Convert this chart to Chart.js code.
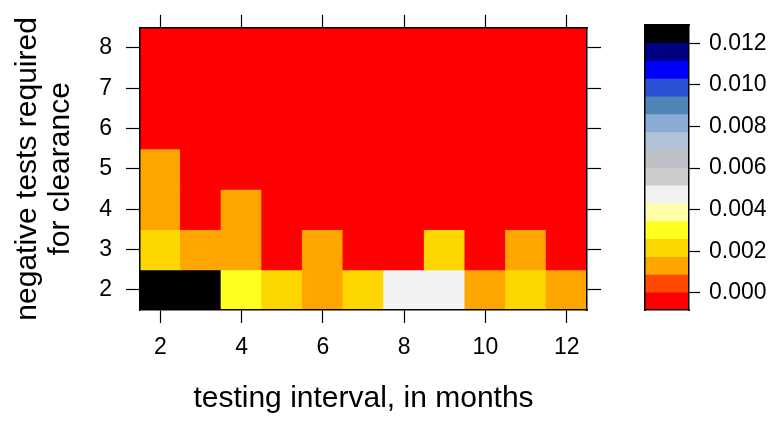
<!DOCTYPE html>
<html><head><meta charset="utf-8">
<script src="https://cdn.jsdelivr.net/npm/chart.js@4/dist/chart.umd.min.js"></script>
<style>
html,body{margin:0;padding:0;background:#fff;}
#wrap{position:relative;width:781px;height:425px;overflow:hidden;}
#main{position:absolute;left:0;top:0;width:781px;height:425px;}
#key{position:absolute;left:600px;top:0;width:181px;height:425px;}
</style></head><body>
<div id="wrap"><div id="main"><canvas id="c1"></canvas></div><div id="key"><canvas id="c2"></canvas></div></div>
<script>
// ---- data ----
const intervals = [2, 3, 4, 5, 6, 7, 8, 9, 10, 11, 12];
const testsRequired = [2, 3, 4, 5, 6, 7, 8];
const probTests2 = [0.0125, 0.0125, 0.0030, 0.0022, 0.0013, 0.0022, 0.0047, 0.0047, 0.0013, 0.0022, 0.0013];
const probTests3 = [0.0022, 0.0013, 0.0013, 0, 0.0013, 0, 0, 0.0022, 0, 0.0013, 0];
const probTests4 = [0.0013, 0, 0.0013, 0, 0, 0, 0, 0, 0, 0, 0];
const probTests5 = [0.0013, 0, 0, 0, 0, 0, 0, 0, 0, 0, 0];
const probTests6 = [0, 0, 0, 0, 0, 0, 0, 0, 0, 0, 0];
const probTests7 = [0, 0, 0, 0, 0, 0, 0, 0, 0, 0, 0];
const probTests8 = [0, 0, 0, 0, 0, 0, 0, 0, 0, 0, 0];
const xTickValues = [2, 4, 6, 8, 10, 12];
const yTickValues = [2, 3, 4, 5, 6, 7, 8];
const keyBreaks = [-0.00083, 0.00003, 0.00088, 0.00174, 0.00260, 0.00346, 0.00431, 0.00517, 0.00603, 0.00688, 0.00774, 0.00860, 0.00946, 0.01031, 0.01117, 0.01203, 0.01288];
const keyTickValues = [0, 0.002, 0.004, 0.006, 0.008, 0.010, 0.012];

// ---- styles ----
const keyColors = ['#FF0000', '#FF4800', '#FFA500', '#FFD700', '#FFFF20', '#FFFFA8', '#F2F2F2', '#CCCCCC',
  '#BDC0C5', '#B2C2D6', '#8AACD4', '#4F86B6', '#2C50D4', '#0000FF', '#000085', '#000000'];
const FONT = "'Liberation Sans', Arial, Helvetica, sans-serif";
const BLACK = '#000000';

function colorFor(v) {
  for (let i = 0; i < keyColors.length; i++) {
    if (v >= keyBreaks[i] && v < keyBreaks[i + 1]) return keyColors[i];
  }
  return v < keyBreaks[0] ? keyColors[0] : keyColors[keyColors.length - 1];
}

const rows = [probTests2, probTests3, probTests4, probTests5, probTests6, probTests7, probTests8];
const cells = [], cellColors = [];
rows.forEach((arr, r) => arr.forEach((v, c) => {
  cells.push({x: intervals[c], y: [testsRequired[r] - 0.5, testsRequired[r] + 0.5]});
  cellColors.push(colorFor(v));
}));

const tickFont = {family: FONT, size: 23};
const keyTickFont = {family: FONT, size: 23};
const titleFont = {family: FONT, size: 30, lineHeight: 1.1};
const borderOpt = {display: true, color: BLACK, width: 1.5, z: 1};
const gridOpt = (len) => ({display: true, offset: false, drawOnChartArea: false, drawTicks: true, tickLength: len, color: BLACK, tickColor: BLACK, tickWidth: 1.2});

new Chart(document.getElementById('c1'), {
  type: 'bar',
  data: {datasets: [{data: cells, backgroundColor: cellColors, borderWidth: 0, inflateAmount: 0.6, barPercentage: 1, categoryPercentage: 1}]},
  options: {
    responsive: true, maintainAspectRatio: false, animation: false,
    layout: {padding: 0},
    plugins: {legend: {display: false}, tooltip: {enabled: false}},
    scales: {
      x: {type: 'linear', position: 'bottom', min: 1.5, max: 12.5, offset: false,
        afterBuildTicks: s => { s.ticks = xTickValues.map(v => ({value: v})); },
        ticks: {font: tickFont, color: BLACK, padding: 11, maxRotation: 0, autoSkip: false, callback: v => String(v)},
        grid: gridOpt(13), border: borderOpt,
        title: {display: true, text: 'testing interval, in months', font: titleFont, color: BLACK, padding: {top: 0, bottom: 10}},
        afterFit: s => { s.height = 115; }},
      x2: {type: 'linear', position: 'top', min: 1.5, max: 12.5, offset: false,
        afterBuildTicks: s => { s.ticks = xTickValues.map(v => ({value: v})); },
        ticks: {display: false}, grid: gridOpt(13), border: borderOpt,
        afterFit: s => { s.height = 25; }},
      y: {type: 'linear', position: 'left', min: 1.5, max: 8.5,
        afterBuildTicks: s => { s.ticks = yTickValues.map(v => ({value: v})); },
        ticks: {font: tickFont, color: BLACK, padding: 14, autoSkip: false, callback: v => String(v)},
        grid: gridOpt(14), border: borderOpt,
        title: {display: true, text: ['negative tests required', 'for clearance'], font: titleFont, color: BLACK, padding: {top: 11, bottom: 0}},
        afterFit: s => { s.width = 140; }},
      y2: {type: 'linear', position: 'right', min: 1.5, max: 8.5,
        afterBuildTicks: s => { s.ticks = yTickValues.map(v => ({value: v})); },
        ticks: {display: false}, grid: gridOpt(14), border: borderOpt,
        afterFit: s => { s.width = 194; }}
    }
  }
});

const keyCells = keyColors.map((c, i) => ({x: 'k', y: [keyBreaks[i], keyBreaks[i + 1]]}));
new Chart(document.getElementById('c2'), {
  type: 'bar',
  data: {labels: ['k'], datasets: [{data: keyCells, backgroundColor: keyColors, borderWidth: 0, barPercentage: 1, categoryPercentage: 1}]},
  options: {
    responsive: true, maintainAspectRatio: false, animation: false,
    layout: {padding: {left: 45, top: 25, bottom: 115, right: 0}},
    plugins: {legend: {display: false}, tooltip: {enabled: false}},
    scales: {
      x: {type: 'category', position: 'bottom', ticks: {display: false}, grid: {display: false}, border: borderOpt, afterFit: s => { s.height = 0; }},
      xt: {type: 'category', position: 'top', labels: ['k'], ticks: {display: false}, grid: {display: false}, border: borderOpt, afterFit: s => { s.height = 0; }},
      yl: {type: 'linear', position: 'left', min: keyBreaks[0], max: keyBreaks[keyBreaks.length - 1], ticks: {display: false}, grid: {display: false}, border: borderOpt, afterFit: s => { s.width = 0; }},
      y: {type: 'linear', position: 'right', min: keyBreaks[0], max: keyBreaks[keyBreaks.length - 1],
        afterBuildTicks: s => { s.ticks = keyTickValues.map(v => ({value: v})); },
        ticks: {font: keyTickFont, color: BLACK, padding: 9, autoSkip: false, callback: v => v.toFixed(3)},
        grid: gridOpt(11), border: borderOpt,
        afterFit: s => { s.width = 92; }}
    }
  }
});
</script>
</body></html>
